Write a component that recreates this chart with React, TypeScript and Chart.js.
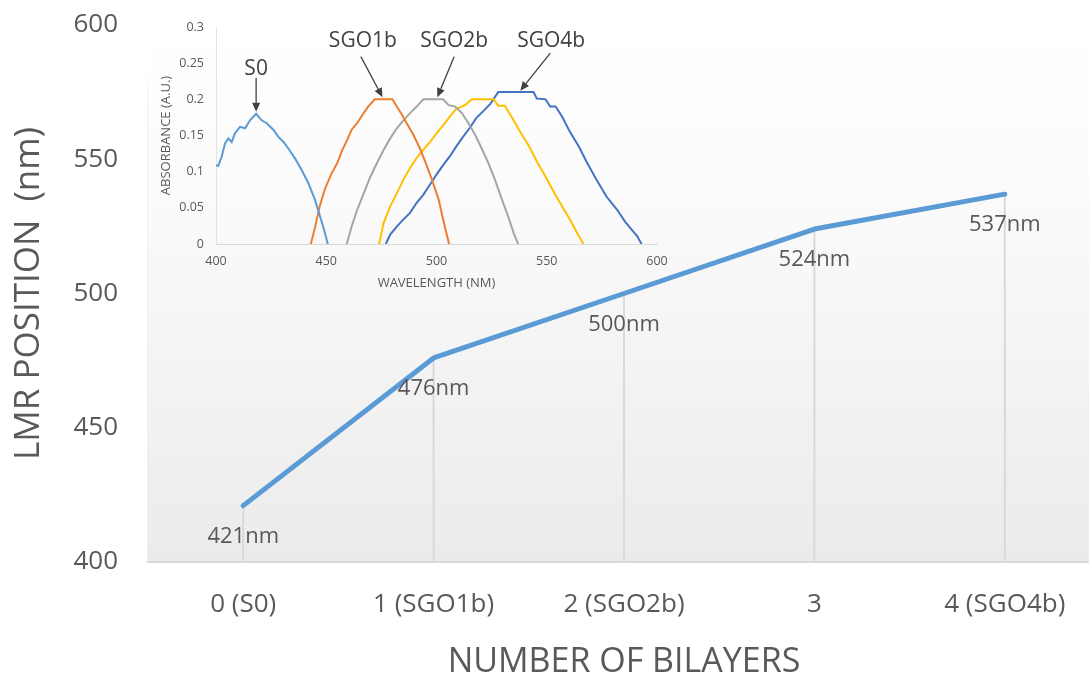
import React, { useEffect, useRef } from "react";
import { Chart, registerables } from "chart.js";
Chart.register(...registerables);

// ---- Main chart data ----
const bilayerLabels = ["0 (S0)", "1 (SGO1b)", "2 (SGO2b)", "3", "4 (SGO4b)"];
const lmrPositions = [421, 476, 500, 524, 537];
const lmrMin = 400;
const lmrMax = 600;
const lmrStep = 50;

// ---- Inset absorbance spectra ----
const s0X = [400, 401, 402.6, 404.1, 405.6, 407.1, 408.6, 410.9, 413.2, 415.4, 418.2, 420.7, 423, 426, 428.3, 430.6, 432.8, 435.9, 438.9, 441.9, 444.9, 447.2, 449, 450.7];
const s0Y = [0.109, 0.108, 0.121, 0.139, 0.146, 0.141, 0.153, 0.162, 0.16, 0.171, 0.18, 0.171, 0.167, 0.158, 0.148, 0.141, 0.132, 0.118, 0.102, 0.084, 0.061, 0.038, 0.02, 0];

const sgo1bX = [443, 445, 447, 449.5, 452.5, 455, 457, 459.5, 461.5, 464, 467, 469, 472, 480, 482, 484.5, 486.5, 489.5, 492.5, 495.5, 498.5, 501, 503, 505.7];
const sgo1bY = [0, 0.024, 0.052, 0.077, 0.098, 0.112, 0.128, 0.144, 0.158, 0.167, 0.181, 0.19, 0.2, 0.2, 0.19, 0.178, 0.167, 0.151, 0.132, 0.109, 0.084, 0.061, 0.034, 0];

const sgo2bX = [459.3, 461.5, 464, 467, 470, 473, 476, 479, 482, 485, 488, 491, 494, 503, 505.5, 508.5, 511.5, 514.5, 517.5, 520.5, 523.5, 526.5, 529.5, 532.5, 535, 537];
const sgo2bY = [0, 0.024, 0.047, 0.07, 0.093, 0.112, 0.13, 0.146, 0.16, 0.171, 0.181, 0.19, 0.2, 0.2, 0.192, 0.19, 0.181, 0.167, 0.151, 0.132, 0.112, 0.089, 0.063, 0.038, 0.015, 0];

const sgo3bX = [474, 476, 479, 482, 485, 488, 491, 494, 497, 500, 503, 506, 509, 513, 516, 526, 528, 531, 534, 538, 542, 545.5, 549.5, 553, 557, 560.5, 564.5, 566.7];
const sgo3bY = [0, 0.029, 0.052, 0.07, 0.089, 0.105, 0.119, 0.13, 0.141, 0.153, 0.164, 0.176, 0.187, 0.192, 0.2, 0.2, 0.191, 0.191, 0.176, 0.155, 0.135, 0.114, 0.093, 0.073, 0.052, 0.034, 0.011, 0];

const sgo4bX = [477, 479, 482, 485, 488, 491, 494, 497, 500, 503, 506, 509, 512, 515, 518, 521, 524.5, 528, 544, 545.5, 549.5, 551.5, 554, 557, 560.5, 564.5, 568, 572.5, 577, 582, 585.5, 588.5, 591, 593];
const sgo4bY = [0, 0.013, 0.024, 0.034, 0.043, 0.057, 0.068, 0.082, 0.096, 0.109, 0.121, 0.135, 0.148, 0.16, 0.174, 0.183, 0.194, 0.21, 0.21, 0.201, 0.2, 0.19, 0.19, 0.176, 0.155, 0.135, 0.114, 0.089, 0.066, 0.047, 0.031, 0.02, 0.011, 0];

// annotation labels (in data units of the inset)
const annLabels = ["S0", "SGO1b", "SGO2b", "SGO4b"];
const annTextX = [418.2, 466.6, 508, 552];
const annTextY = [0.242, 0.28, 0.28, 0.28];
const annTailX = [418.2, 465.7, 508, 551.6];
const annTailY = [0.23, 0.259, 0.259, 0.264];
const annTipX = [418.2, 475.5, 500.4, 538];
const annTipY = [0.183, 0.203, 0.203, 0.212];

const FONT = "'Open Sans', 'DejaVu Sans', sans-serif";
const TEXT = "#595959";

const zip = (xs: number[], ys: number[]) => xs.map((x, i) => ({ x, y: ys[i] }));

export default function App() {
  const mainRef = useRef<HTMLCanvasElement>(null);
  const insetRef = useRef<HTMLCanvasElement>(null);

  useEffect(() => {
    Chart.defaults.font.family = FONT;

    const bgPlugin = {
      id: "bg",
      beforeDraw(chart: any) {
        const { ctx, chartArea: a } = chart;
        const g = ctx.createLinearGradient(0, a.top, 0, a.bottom);
        g.addColorStop(0, "#ffffff");
        g.addColorStop(0.35, "#fafafa");
        g.addColorStop(1, "#ebebeb");
        ctx.save();
        ctx.fillStyle = g;
        ctx.fillRect(a.left, a.top, a.right - a.left, a.bottom - a.top);
        ctx.strokeStyle = "rgba(0,0,0,0.05)";
        ctx.lineWidth = 1;
        ctx.beginPath();
        ctx.moveTo(a.left - 0.5, a.top + 60);
        ctx.lineTo(a.left - 0.5, a.bottom);
        ctx.stroke();
        ctx.restore();
      },
    };

    const dropPlugin = {
      id: "drops",
      beforeDatasetsDraw(chart: any) {
        const { ctx, chartArea: a } = chart;
        const meta = chart.getDatasetMeta(0);
        ctx.save();
        ctx.strokeStyle = "#d9d9d9";
        ctx.lineWidth = 2;
        meta.data.forEach((p: any) => {
          ctx.beginPath();
          ctx.moveTo(p.x, p.y);
          ctx.lineTo(p.x, a.bottom);
          ctx.stroke();
        });
        ctx.restore();
      },
      afterDatasetsDraw(chart: any) {
        const { ctx } = chart;
        const meta = chart.getDatasetMeta(0);
        ctx.save();
        ctx.fillStyle = TEXT;
        ctx.font = `22px ${FONT}`;
        ctx.textAlign = "center";
        ctx.textBaseline = "middle";
        meta.data.forEach((p: any, i: number) => {
          ctx.fillText(`${lmrPositions[i]}nm`, p.x, p.y + 31);
        });
        ctx.restore();
      },
    };

    const main = new Chart(mainRef.current!, {
      type: "line",
      data: {
        labels: bilayerLabels,
        datasets: [
          {
            data: lmrPositions,
            borderColor: "#5B9BD5",
            borderWidth: 5,
            pointRadius: 0,
            tension: 0,
            borderCapStyle: "round",
            borderJoinStyle: "round",
          },
        ],
      },
      options: {
        animation: false,
        responsive: false,
        layout: { padding: { top: 25, left: 0, right: 0, bottom: 0 } },
        plugins: { legend: { display: false }, tooltip: { enabled: false } },
        scales: {
          x: {
            offset: true,
            grid: { display: false, drawTicks: false, offset: true },
            border: { display: true, color: "#d9d9d9", width: 2 },
            ticks: { color: TEXT, font: { size: 26 }, padding: 27, maxRotation: 0, autoSkip: false },
            title: {
              display: true,
              text: "NUMBER OF BILAYERS",
              color: TEXT,
              font: { size: 34, lineHeight: 1 },
              padding: { top: 0, bottom: 0 },
            },
            afterFit(scale: any) {
              scale.height = 117;
              scale.paddingLeft = 0;
              scale.paddingRight = 0;
            },
          },
          y: {
            min: lmrMin,
            max: lmrMax,
            grid: { display: false, drawTicks: false },
            border: { display: false },
            ticks: { stepSize: lmrStep, color: TEXT, font: { size: 26 }, padding: 30 },
            title: {
              display: true,
              text: "LMR POSITION  (nm)",
              color: TEXT,
              font: { size: 35 },
              padding: { top: 8, bottom: 0 },
            },
            afterFit(scale: any) {
              scale.width = 148;
              scale.paddingTop = 0;
              scale.paddingBottom = 0;
            },
          },
        },
      },
      plugins: [bgPlugin, dropPlugin],
    });

    const annPlugin = {
      id: "ann",
      afterDatasetsDraw(chart: any) {
        const { ctx, scales } = chart;
        const xs = scales.x;
        const ys = scales.y;
        ctx.save();
        ctx.fillStyle = "#404040";
        ctx.strokeStyle = "#404040";
        ctx.lineWidth = 1.3;
        ctx.font = `21px ${FONT}`;
        ctx.textAlign = "center";
        ctx.textBaseline = "middle";
        annLabels.forEach((lab, i) => {
          ctx.fillText(lab, xs.getPixelForValue(annTextX[i]), ys.getPixelForValue(annTextY[i]));
          const x0 = xs.getPixelForValue(annTailX[i]);
          const y0 = ys.getPixelForValue(annTailY[i]);
          const x1 = xs.getPixelForValue(annTipX[i]);
          const y1 = ys.getPixelForValue(annTipY[i]);
          const ang = Math.atan2(y1 - y0, x1 - x0);
          const hl = 9;
          const hw = 4;
          const bx = x1 - hl * Math.cos(ang);
          const by = y1 - hl * Math.sin(ang);
          ctx.beginPath();
          ctx.moveTo(x0, y0);
          ctx.lineTo(bx, by);
          ctx.stroke();
          ctx.beginPath();
          ctx.moveTo(x1, y1);
          ctx.lineTo(bx + hw * Math.sin(ang), by - hw * Math.cos(ang));
          ctx.lineTo(bx - hw * Math.sin(ang), by + hw * Math.cos(ang));
          ctx.closePath();
          ctx.fill();
        });
        ctx.restore();
      },
    };

    const mk = (xs: number[], ys: number[], color: string) => ({
      data: zip(xs, ys),
      borderColor: color,
      borderWidth: 2,
      pointRadius: 0,
      tension: 0,
    });

    const inset = new Chart(insetRef.current!, {
      type: "line",
      data: {
        datasets: [
          mk(s0X, s0Y, "#5B9BD5"),
          mk(sgo1bX, sgo1bY, "#ED7D31"),
          mk(sgo2bX, sgo2bY, "#A5A5A5"),
          mk(sgo3bX, sgo3bY, "#FFC000"),
          mk(sgo4bX, sgo4bY, "#4472C4"),
        ],
      },
      options: {
        animation: false,
        responsive: false,
        layout: { padding: { top: 27, right: 23, left: 0, bottom: 0 } },
        plugins: { legend: { display: false }, tooltip: { enabled: false } },
        scales: {
          x: {
            type: "linear",
            min: 400,
            max: 600,
            grid: { display: false, drawTicks: false },
            border: { display: true, color: "#d9d9d9", width: 1 },
            ticks: { stepSize: 50, color: TEXT, font: { size: 12.5 }, padding: 10 },
            title: {
              display: true,
              text: "WAVELENGTH (NM)",
              color: TEXT,
              font: { size: 13 },
              padding: { top: 0, bottom: 9 },
            },
            afterFit(scale: any) {
              scale.height = 56;
              scale.paddingLeft = 0;
              scale.paddingRight = 0;
            },
          },
          y: {
            min: 0,
            max: 0.3,
            grid: { display: false, drawTicks: false },
            border: { display: true, color: "#e3e3e3", width: 1 },
            ticks: {
              stepSize: 0.05,
              color: TEXT,
              font: { size: 12.5 },
              padding: 12,
              callback: (v: any) => String(+Number(v).toFixed(2)),
            },
            title: {
              display: true,
              text: "ABSORBANCE (A.U.)",
              color: TEXT,
              font: { size: 13 },
              padding: { top: 8, bottom: 0 },
            },
            afterFit(scale: any) {
              scale.width = 66;
              scale.paddingTop = 0;
              scale.paddingBottom = 0;
            },
          },
        },
      },
      plugins: [annPlugin],
    });

    return () => {
      main.destroy();
      inset.destroy();
    };
  }, []);

  return (
    <div
      style={{
        position: "fixed",
        left: 0,
        top: 0,
        width: 1089,
        height: 679,
        overflow: "hidden",
        background: "#ffffff",
      }}
    >
      <div style={{ position: "absolute", left: 0, top: 0, width: 1100, height: 679 }}>
        <canvas ref={mainRef} width={1100} height={679} style={{ width: 1100, height: 679, display: "block" }} />
      </div>
      <div style={{ position: "absolute", left: 150, top: 0, width: 530, height: 300 }}>
        <canvas ref={insetRef} width={530} height={300} style={{ width: 530, height: 300, display: "block" }} />
      </div>
    </div>
  );
}
